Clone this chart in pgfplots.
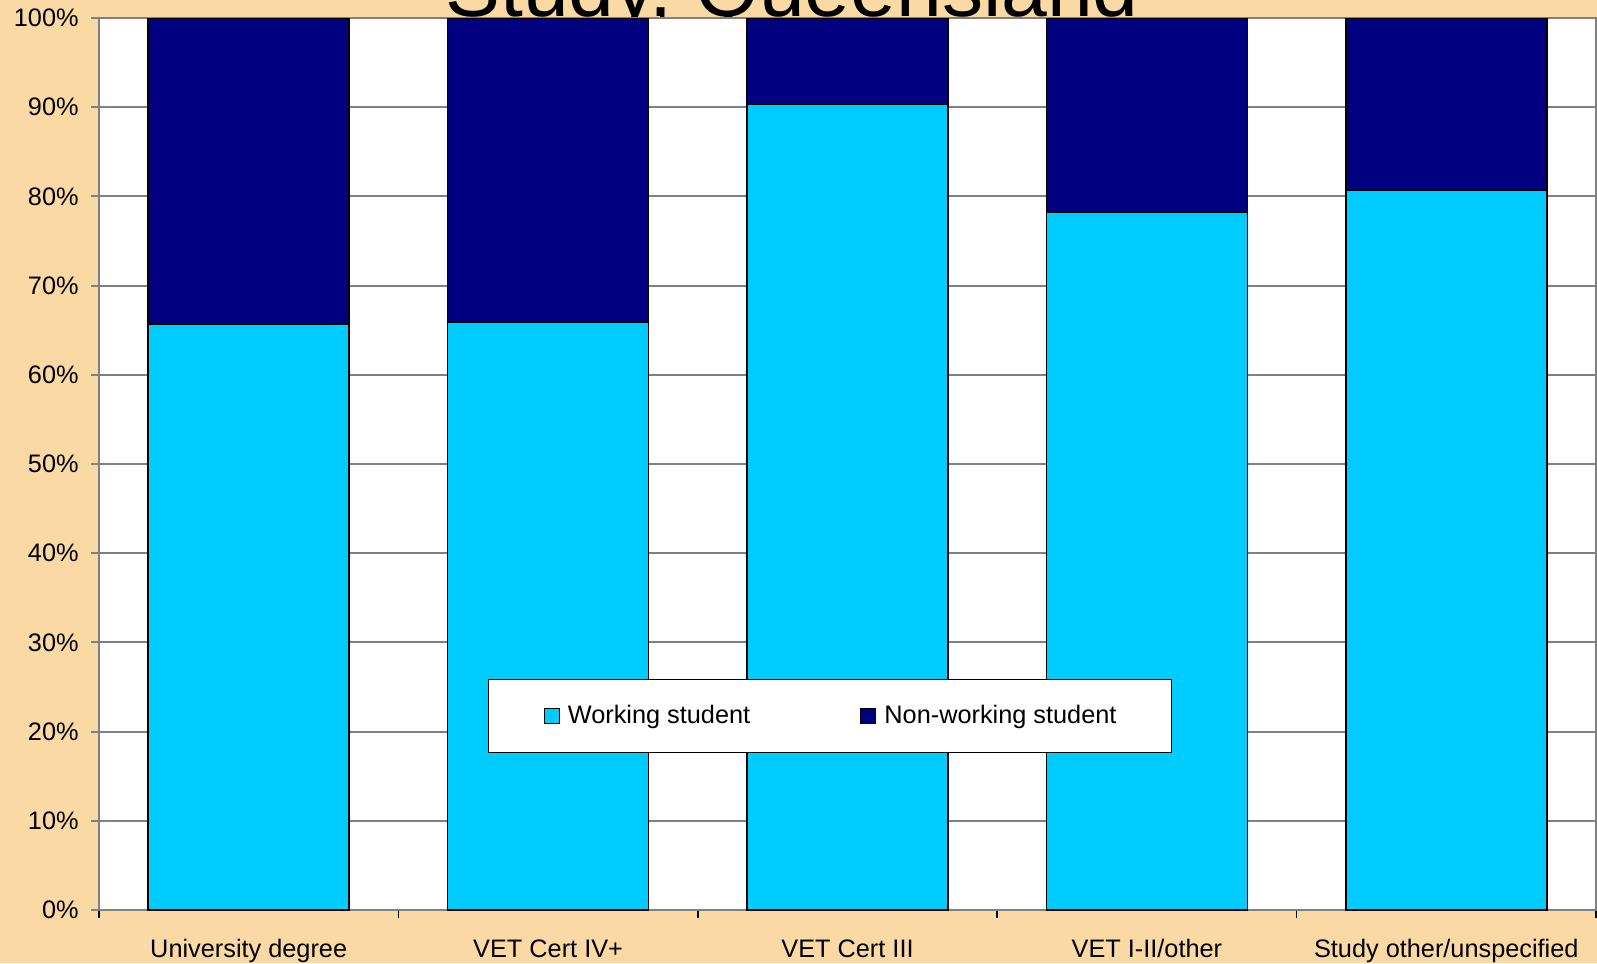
\documentclass[border=0pt]{standalone}
\usepackage{fontspec}
\setmainfont{Liberation Sans}
\usepackage{pgfplots}
\pgfplotsset{compat=1.18}

\definecolor{bgbeige}{RGB}{250,217,165}
\definecolor{workcyan}{RGB}{0,204,255}
\definecolor{nonwork}{RGB}{0,0,128}
\definecolor{gridgray}{RGB}{128,128,128}

\begin{document}
\begin{tikzpicture}
\path[use as bounding box, clip] (-9.9mm,-5.3mm) rectangle (149.8mm,91.0mm);
\fill[bgbeige] (-9.9mm,-5.3mm) rectangle (149.8mm,91.0mm);
\node[anchor=base, font=\fontsize{23.4}{28}\selectfont] at (69.3mm,89.4mm) {Study, Queensland};
\begin{axis}[
  at={(0,0)}, anchor=south west,
  scale only axis, width=149.7mm, height=89.2mm,
  ybar stacked, bar width=20.1mm,
  xmin=-0.5, xmax=4.5, ymin=0, ymax=100,
  xtick={0,1,2,3,4},
  xticklabels={University degree, VET Cert IV+, VET Cert III, VET I-II/other, Study other/unspecified},
  minor xtick={-0.5,0.5,1.5,2.5,3.5,4.5},
  ytick={0,10,...,100},
  yticklabel={\pgfmathprintnumber{\tick}\%},
  /pgf/number format/assume math mode=true,
  tick align=outside, xtick pos=bottom, ytick pos=left,
  major x tick style={draw=none},
  minor x tick style={draw=black, line width=0.15mm},
  minor tick length=0.8mm,
  major y tick style={draw=gridgray, line width=0.2mm},
  major tick length=0.8mm,
  ymajorgrids, grid style={gridgray, line width=0.2mm},
  axis line style={gridgray, line width=0.2mm},
  axis background/.style={fill=white},
  tick label style={font=\fontsize{7.2}{8.6}\selectfont, text=black},
  xticklabel style={yshift=-0.9mm},
  legend columns=2,
  legend image code/.code={\draw[#1, draw=black, line width=0.12mm] (0mm,-0.75mm) rectangle (1.5mm,0.75mm);},
  legend style={at={(0.2599,0.259)}, anchor=north west, draw=black, fill=white,
    line width=0.12mm, inner xsep=5.5mm, inner ysep=2.5mm,
    font=\fontsize{7.2}{8.6}\selectfont,
    nodes={inner sep=0pt, text height=1.85mm, text depth=0.45mm},
    /tikz/every odd column/.append style={column sep=0.8mm},
    /tikz/every even column/.append style={column sep=11.0mm}},
]
\addplot[fill=workcyan, draw=black, line width=0.15mm] coordinates {(0,65.7) (1,65.9) (2,90.3) (3,78.2) (4,80.7)};
\addplot[fill=nonwork, draw=black, line width=0.15mm] coordinates {(0,34.3) (1,34.1) (2,9.7) (3,21.8) (4,19.3)};
\legend{Working student, Non-working student}
\end{axis}
\end{tikzpicture}
\end{document}
